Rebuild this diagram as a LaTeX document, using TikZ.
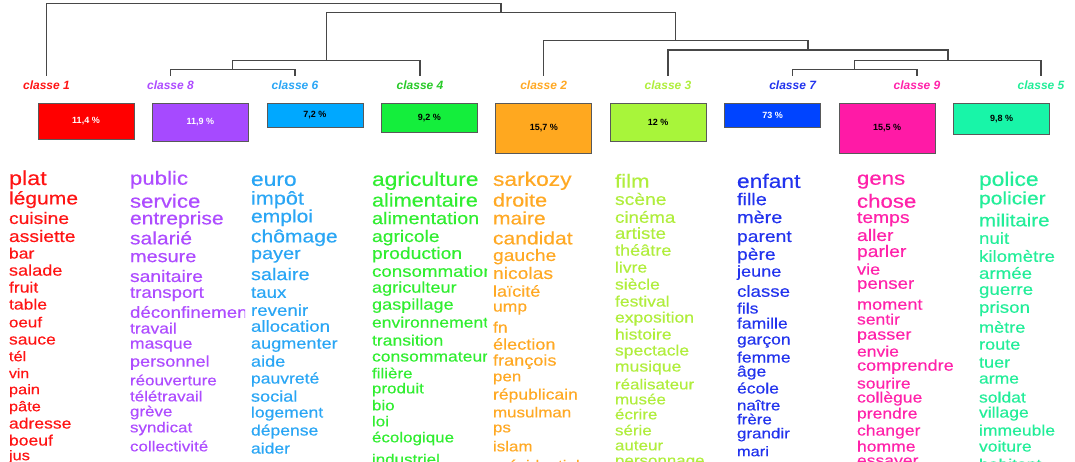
\documentclass[tikz,border=0pt]{standalone}
\usepackage{fontspec}
\setmainfont{Liberation Sans}
\newfontfamily\wordfont{Liberation Sans}[FakeStretch=1.17,FakeBold=0.35]
\definecolor{cA}{HTML}{FF1414}\definecolor{cAb}{HTML}{FF0000}
\definecolor{cH}{HTML}{AE4CFF}\definecolor{cHb}{HTML}{A64AFF}
\definecolor{cF}{HTML}{2AA6F5}\definecolor{cFb}{HTML}{00A8FF}
\definecolor{cD}{HTML}{30EE30}\definecolor{cDb}{HTML}{14EE3C}
\definecolor{cB}{HTML}{FFA924}\definecolor{cBb}{HTML}{FFA81F}
\definecolor{cC}{HTML}{B0EE3C}\definecolor{cCb}{HTML}{A8F53A}
\definecolor{cG}{HTML}{2233EE}\definecolor{cGb}{HTML}{0044FF}
\definecolor{cI}{HTML}{FF22AA}\definecolor{cIb}{HTML}{FF1AA6}
\definecolor{cE}{HTML}{22EE99}\definecolor{cEb}{HTML}{18F5A8}
\tikzset{
  dendro/.style={draw=black!72, line width=1.1pt},
  lbl/.style={font=\fontsize{12}{12}\selectfont\bfseries\itshape, anchor=base,
    inner sep=0pt, outer sep=0pt, outer ysep=4.5pt, text height=9pt, text depth=2.5pt},
  pbox/.style={draw=black!65, line width=0.8pt, anchor=north, minimum width=96pt,
    inner sep=0pt, font=\fontsize{9}{9}\selectfont\bfseries},
  word/.style={anchor=base west, inner sep=0pt, outer sep=0pt}
}
\newcommand\wcol[4]{%
  \begin{scope}
    \clip (#2-3,160) rectangle (#2+115,462);
    \foreach[count=\i] \w/\s/\y in {#4} {
      \node[word, text=#3, font=\wordfont\fontsize{\s}{\s}\selectfont] (#1\i) at (#2,{\y+0.3*\s}) {\w};
    }
  \end{scope}}
\begin{document}
\begin{tikzpicture}[x=1pt,y=-1pt]
\useasboundingbox (0,0) rectangle (1075,462);
\fill[white] (0,0) rectangle (1075,462);
\clip (0,0) rectangle (1075,462);
% class labels
\node[lbl, text=cA] (l1) at (46.5,89.5) {classe 1};
\node[lbl, text=cH] (l8) at (170.5,89.5) {classe 8};
\node[lbl, text=cF] (l6) at (295,89.5) {classe 6};
\node[lbl, text=cD!85!black] (l4) at (420,89.5) {classe 4};
\node[lbl, text=cB] (l2) at (543.6,89.5) {classe 2};
\node[lbl, text=cC] (l3) at (668,89.5) {classe 3};
\node[lbl, text=cG] (l7) at (792.6,89.5) {classe 7};
\node[lbl, text=cI] (l9) at (917,89.5) {classe 9};
\node[lbl, text=cE] (l5) at (1041,89.5) {classe 5};
% dendrogram junctions
\coordinate (a) at (232.75,69.3);
\coordinate (b) at (326.7,60.3);
\coordinate (g) at (854.8,69.3);
\coordinate (h) at (948,60.3);
\coordinate (i) at (808,50);
\coordinate (j) at (675.8,40.7);
\coordinate (k) at (501,12.3);
\coordinate (r) at (274,3.3);
\draw[dendro] (l8.north) |- (a) -| (l6.north);
\draw[dendro] (a) |- (b) -| (l4.north);
\draw[dendro] (l7.north) |- (g) -| (l9.north);
\draw[dendro] (g) |- (h) -| (l5.north);
\draw[dendro] (l3.north) |- (i) -| (h);
\draw[dendro] (l2.north) |- (j) -| (i);
\draw[dendro] (b) |- (k) -| (j);
\draw[dendro] (l1.north) |- (r) -| (k);
% boxes
\node[pbox, fill=cAb, minimum height=36.6pt, text=white] (b1) at (86,102.7) {11,4 \%};
\node[pbox, fill=cHb, minimum height=38.3pt, text=white] (b8) at (200.4,102.7) {11,9 \%};
\node[pbox, fill=cFb, minimum height=24pt, text=black] (b6) at (314.9,102.7) {7,2 \%};
\node[pbox, fill=cDb, minimum height=29.6pt, text=black] (b4) at (429.3,102.7) {9,2 \%};
\node[pbox, fill=cBb, minimum height=50.6pt, text=black] (b2) at (543.8,102.7) {15,7 \%};
\node[pbox, fill=cCb, minimum height=38.3pt, text=black] (b3) at (658.2,102.7) {12 \%};
\node[pbox, fill=cGb, minimum height=24pt, text=white] (b7) at (772.6,102.7) {73 \%};
\node[pbox, fill=cIb, minimum height=50.6pt, text=black] (b9) at (887.1,102.7) {15,5 \%};
\node[pbox, fill=cEb, minimum height=31pt, text=black] (b5) at (1001.5,102.7) {9,8 \%};
% word columns
\wcol{wa}{9}{cA}{plat/20/179, légume/18/199, cuisine/16.5/219, assiette/16.5/237, bar/15/254, salade/15.5/271, fruit/15/288, table/15/305, oeuf/14.5/323, sauce/15/340, tél/14/357, vin/13.5/374, pain/14/390, pâte/14/407, adresse/15/424, boeuf/15/441, jus/14/456}
\wcol{wh}{130}{cH}{public/19/179, service/19/202, entreprise/18/219, salarié/18/239, mesure/17/257, sanitaire/16.5/277, transport/16/293, déconfinement/16/313, travail/15/329, masque/15/344, personnel/15.5/362, réouverture/14.5/381, télétravail/14.5/397, grève/14.5/412, syndicat/14.5/428, collectivité/14.5/447}
\wcol{wf}{251}{cF}{euro/19.5/180, impôt/18.5/199, emploi/18/217, chômage/18/237, payer/17/254, salaire/17/275, taux/16/293, revenir/16/311, allocation/16/327, augmenter/15.5/344, aide/15.5/362, pauvreté/15/379, social/15.5/397, logement/15/413, dépense/15/431, aider/15/449}
\wcol{wd}{372}{cD}{agriculture/19.5/180, alimentaire/18.5/201, alimentation/17/219, agricole/16.5/237, production/16.5/254, consommation/16/272, agriculteur/15.5/288, gaspillage/15.5/305, environnement/15/323, transition/15/341, consommateur/15/357, filière/14.5/374, produit/14.5/389, bio/14.5/406, loi/14.5/422, écologique/14.5/438, industriel/14.5/460}
\wcol{wb}{493}{cB}{sarkozy/19.5/180, droite/18.5/201, maire/18/219, candidat/18/239, gauche/16.5/256, nicolas/16.5/274, laïcité/15.5/292, ump/15/307, fn/15/328, élection/15.5/345, françois/15.5/361, pen/14.5/377, républicain/15/395, musulman/14.5/413, ps/14.5/428, islam/14.5/447, présidentiel/14.5/466}
\wcol{wc}{615}{cC}{film/19/182, scène/16.5/200, cinéma/16/218, artiste/16/234, théâtre/15.5/251, livre/15/268, siècle/15/285, festival/15/302, exposition/15/318, histoire/15/335, spectacle/15/351, musique/15/367, réalisateur/14.5/385, musée/14.5/400, écrire/14.5/415, série/14.5/431, auteur/14.5/446, personnage/14.5/461}
\wcol{wg}{737}{cG}{enfant/19.5/182, fille/17/200, mère/17/218, parent/16.5/237, père/16.5/255, jeune/15.5/272, classe/16/292, fils/15/309, famille/15/324, garçon/15/340, femme/15/358, âge/15/372, école/15/389, naître/14.5/406, frère/14.5/420, grandir/14.5/434, mari/14/452}
\wcol{wi}{857}{cI}{gens/19/179, chose/19/202, temps/16.5/218, aller/16.5/236, parler/16.5/252, vie/15.5/270, penser/16/284, moment/15.5/305, sentir/15/320, passer/15.5/335, envie/15/352, comprendre/15.5/366, sourire/15/384, collègue/15/398, prendre/15/414, changer/15/431, homme/15/447, essayer/15/461}
\wcol{we}{979}{cE}{police/19.5/180, policier/18/199, militaire/17.5/221, nuit/16/239, kilomètre/16/257, armée/16/274, guerre/16/290, prison/16/308, mètre/15.5/328, route/15.5/345, tuer/15.5/363, arme/15/379, soldat/15/398, village/15/413, immeuble/15/431, voiture/15/447, habitant/15/465}
\end{tikzpicture}
\end{document}
